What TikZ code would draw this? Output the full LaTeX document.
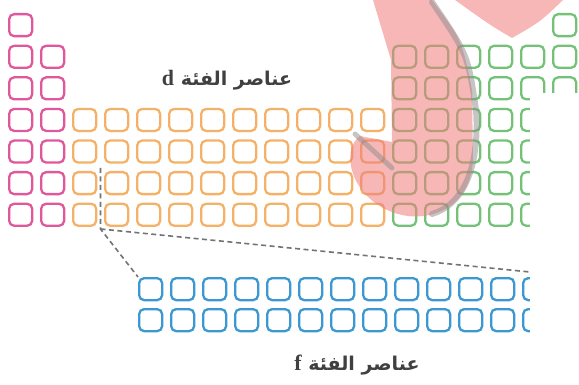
\documentclass[tikz,border=0pt]{standalone}
\usepackage{fontspec}
\newfontfamily\arabicfont[Script=Arabic]{DejaVu Sans}
\newfontfamily\latinserif{Liberation Serif}
\TeXXeTstate=1
\usepackage{tikz}
\usetikzlibrary{positioning}
\definecolor{sblock}{HTML}{E0579C}
\definecolor{dblock}{HTML}{F3B267}
\definecolor{pblock}{HTML}{74C278}
\definecolor{fblock}{HTML}{3C98D0}
\definecolor{stamp}{HTML}{F07C7C}
\begin{document}
\begin{tikzpicture}[x=1pt,y=-1pt,
  cell/.style={draw,rounded corners=5pt,line width=2.3pt,minimum width=23pt,minimum height=22pt,inner sep=0pt,anchor=north west},
  link/.style={draw=black!55,line width=1.6pt,dash pattern=on 5pt off 3.5pt},
  blocktext/.style={font=\arabicfont\bfseries\fontsize{19}{22}\selectfont,text=black!75,inner sep=0pt}]
\useasboundingbox (0,0) rectangle (579,385);
% s block
\foreach \r in {1,...,7} \node[cell,draw=sblock] (c1-\r) at (8,{13+31.6*(\r-1)}) {};
\foreach \r in {2,...,7} \node[cell,draw=sblock] (c2-\r) at (40,{13+31.6*(\r-1)}) {};
% d block
\foreach \c in {3,...,12} \foreach \r in {4,...,7}
  \node[cell,draw=dblock] (c\c-\r) at ({8+32*(\c-1)},{13+31.6*(\r-1)}) {};
% p block
\node[cell,draw=pblock] (c18-1) at (552,13) {};
\foreach \c in {13,...,18} \foreach \r in {2,3}
  \node[cell,draw=pblock] (c\c-\r) at ({8+32*(\c-1)},{13+31.6*(\r-1)}) {};
\foreach \c in {13,...,17} \foreach \r in {4,...,7}
  \node[cell,draw=pblock] (c\c-\r) at ({8+32*(\c-1)},{13+31.6*(\r-1)}) {};
% f block
\foreach \k in {1,...,14} \foreach \r in {1,2}
  \node[cell,draw=fblock] (f\k-\r) at ({138+32*(\k-1)},{277+31*(\r-1)}) {};
% watermark
\fill[stamp,opacity=.55] (373,0) -- (432,0) .. controls (462,40) .. (472,90) -- (473,160)
  .. controls (470,212) and (425,222) .. (398,214) .. controls (350,200) and (340,150) .. (360,136)
  -- (392,142) -- (391,60) -- cycle;
\fill[stamp,opacity=.55] (455,0) -- (563,0) .. controls (540,22) .. (512,38) .. controls (490,25) .. cycle;
\draw[black!45,opacity=.5,line width=6pt,line cap=round] (432,2) .. controls (468,55) .. (476,110)
  .. controls (480,170) and (462,205) .. (432,214);
\draw[black!45,opacity=.5,line width=5pt,line cap=round] (355,134) -- (392,168);
\fill[white] (530,93) rectangle (579,345);
% links to f block
\coordinate (foldtop) at (100.5,168);
\coordinate (fold) at (100.5,229);
\coordinate (fend) at (530,272);
\draw[link] (foldtop) -- (fold) -- (f1-1.north west);
\draw[link] (fold) -- (fend);
% labels
\node[blocktext] (dlabel) at (227,80) {\beginR عناصر الفئة {\latinserif\bfseries\fontsize{22}{24}\selectfont d}\endR};
\node[blocktext] (flabel) at (357,365) {\beginR عناصر الفئة {\latinserif\bfseries\fontsize{22}{24}\selectfont f}\endR};
\end{tikzpicture}
\end{document}
